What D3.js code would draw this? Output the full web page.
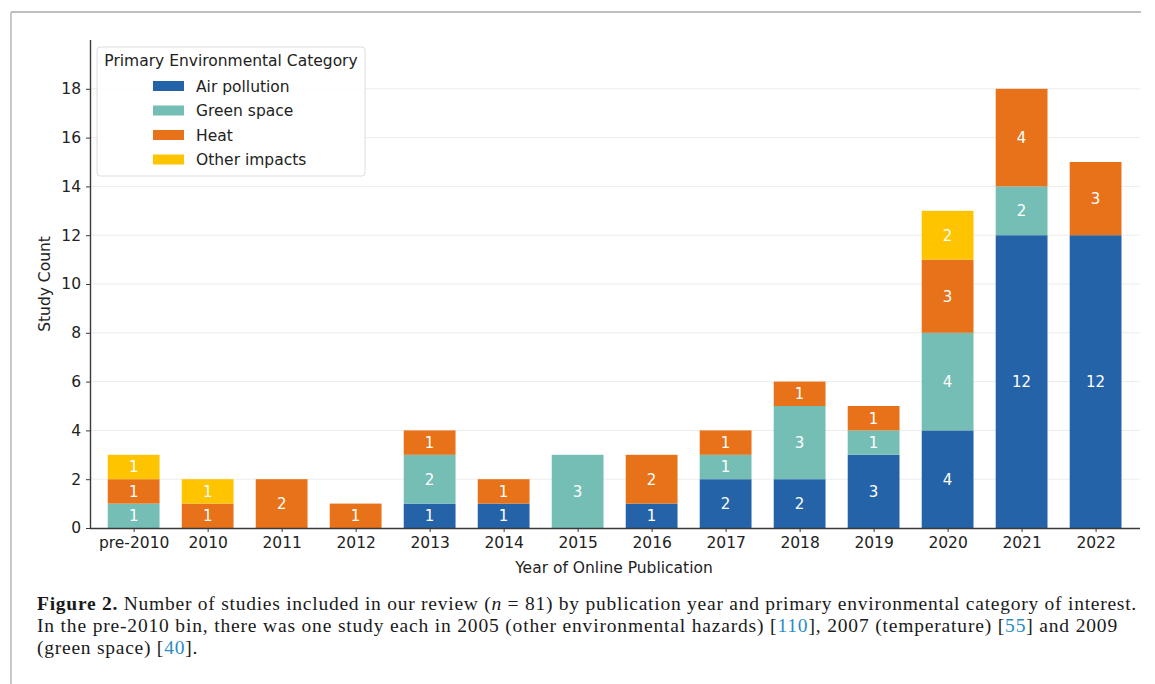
<!DOCTYPE html>
<html>
<head>
<meta charset="utf-8">
<script src="https://cdn.jsdelivr.net/npm/d3@7"></script>
<style>
  body { margin: 0; background: #fff; }
  svg { display: block; }
</style>
</head>
<body>
<svg id="chart" width="1155" height="684"></svg>
<script>
// data
var years = ["pre-2010", "2010", "2011", "2012", "2013", "2014", "2015", "2016", "2017", "2018", "2019", "2020", "2021", "2022"];
var airPollution = [0, 0, 0, 0, 1, 1, 0, 1, 2, 2, 3, 4, 12, 12];
var greenSpace   = [1, 0, 0, 0, 2, 0, 3, 0, 1, 3, 1, 4, 2, 0];
var heat         = [1, 1, 2, 1, 1, 1, 0, 2, 1, 1, 1, 3, 4, 3];
var otherImpacts = [1, 1, 0, 0, 0, 0, 0, 0, 0, 0, 0, 2, 0, 0];
var categories = ["Air pollution", "Green space", "Heat", "Other impacts"];
var colors = ["#2563a9", "#75beb5", "#e87219", "#ffc400"];
var yTicks = [0, 2, 4, 6, 8, 10, 12, 14, 16, 18];

var svg = d3.select("#chart");
var fs = 15.5;

// page frame (top + left lines of the crop)
svg.append("line").attr("x1", 11).attr("y1", 12).attr("x2", 1141).attr("y2", 12)
   .attr("stroke", "#a8a8a8").attr("stroke-width", 1.3);
svg.append("line").attr("x1", 11).attr("y1", 12).attr("x2", 11).attr("y2", 684)
   .attr("stroke", "#c8c8c8").attr("stroke-width", 2);

var pLeft = 90, pRight = 1140, pTop = 40, pBottom = 528;

var x = d3.scaleLinear().domain([-0.59, years.length - 1 + 0.6]).range([pLeft, pRight]);
var y = d3.scaleLinear().domain([0, 20]).range([pBottom, pTop]);
var barW = (x(1) - x(0)) * 0.7;

var g = svg.append("g");

// grid
g.selectAll(".grid").data(yTicks.slice(1)).enter().append("line")
  .attr("x1", pLeft).attr("x2", pRight)
  .attr("y1", d => y(d)).attr("y2", d => y(d))
  .attr("stroke", "#ececec").attr("stroke-width", 1);

// stacked bars
var rows = years.map(function(yr, i) {
  return { year: yr, i: i, a: airPollution[i], g: greenSpace[i], h: heat[i], o: otherImpacts[i] };
});
var stack = d3.stack().keys(["a", "g", "h", "o"])(rows);

var layer = g.selectAll(".layer").data(stack).enter().append("g")
  .attr("fill", (d, k) => colors[k]);

layer.selectAll("rect").data(d => d.filter(s => s[1] - s[0] > 0)).enter().append("rect")
  .attr("x", d => x(d.data.i) - barW / 2)
  .attr("width", barW)
  .attr("y", d => y(d[1]))
  .attr("height", d => y(d[0]) - y(d[1]));

layer.selectAll("text").data(d => d.filter(s => s[1] - s[0] > 0)).enter().append("text")
  .attr("x", d => x(d.data.i))
  .attr("y", d => y((d[0] + d[1]) / 2))
  .attr("dy", "0.36em")
  .attr("text-anchor", "middle")
  .attr("fill", "#ffffff")
  .attr("font-family", "DejaVu Sans")
  .attr("font-size", 15)
  .text(d => d[1] - d[0]);

// axes
var yAxis = d3.axisLeft(y).tickValues(yTicks).tickSize(4).tickPadding(5);
var ga = g.append("g").attr("transform", "translate(" + pLeft + ",0)").call(yAxis);
var xAxis = d3.axisBottom(x).tickValues(d3.range(years.length)).tickFormat(i => years[i]).tickSize(4).tickPadding(5);
var gx = g.append("g").attr("transform", "translate(0," + pBottom + ")").call(xAxis);

[ga, gx].forEach(function(a) {
  a.select(".domain").attr("stroke", "#3a3a3a").attr("stroke-width", 1.4);
  a.selectAll(".tick line").attr("stroke", "#3a3a3a");
  a.selectAll(".tick text").attr("font-family", "DejaVu Sans").attr("font-size", fs).attr("fill", "#222");
});
ga.select(".domain").attr("d", "M0.5," + pTop + "V" + pBottom);
gx.select(".domain").attr("d", "M" + pLeft + ",0.5H" + pRight);

svg.append("text").attr("x", 614).attr("y", 573)
  .attr("text-anchor", "middle").attr("font-family", "DejaVu Sans").attr("font-size", fs)
  .attr("fill", "#222").text("Year of Online Publication");
svg.append("text").attr("transform", "translate(50,284) rotate(-90)")
  .attr("text-anchor", "middle").attr("font-family", "DejaVu Sans").attr("font-size", fs)
  .attr("fill", "#222").text("Study Count");

// legend
var lg = svg.append("g").attr("transform", "translate(97,47)");
lg.append("rect").attr("width", 268).attr("height", 129).attr("rx", 3)
  .attr("fill", "#fff").attr("fill-opacity", 0.85).attr("stroke", "#dcdcdc");
lg.append("text").attr("x", 134).attr("y", 19).attr("text-anchor", "middle")
  .attr("font-family", "DejaVu Sans").attr("font-size", fs).attr("fill", "#222")
  .text("Primary Environmental Category");
var item = lg.selectAll(".item").data(categories).enter().append("g")
  .attr("transform", (d, k) => "translate(0," + (39 + k * 24.5) + ")");
item.append("rect").attr("x", 56).attr("y", -5).attr("width", 31).attr("height", 10)
  .attr("fill", (d, k) => colors[k]);
item.append("text").attr("x", 99).attr("dy", "0.36em")
  .attr("font-family", "DejaVu Sans").attr("font-size", fs).attr("fill", "#222")
  .text(d => d);

// caption (serif, stretched to the widths of the original lines)
var cap = svg.append("g").attr("font-family", "Liberation Serif").attr("font-size", 19.5).attr("fill", "#1a1a1a");
var l1 = cap.append("text").attr("x", 37).attr("y", 610);
l1.append("tspan").attr("font-weight", "bold").text("Figure 2.");
l1.append("tspan").text(" Number of studies included in our review (");
l1.append("tspan").attr("font-style", "italic").text("n");
l1.append("tspan").text(" = 81) by publication year and primary environmental category of interest.");
var l2 = cap.append("text").attr("x", 37).attr("y", 632);
l2.append("tspan").text("In the pre-2010 bin, there was one study each in 2005 (other environmental hazards) [");
l2.append("tspan").attr("fill", "#2a8cc4").text("110");
l2.append("tspan").text("], 2007 (temperature) [");
l2.append("tspan").attr("fill", "#2a8cc4").text("55");
l2.append("tspan").text("] and 2009");
var l3 = cap.append("text").attr("x", 37).attr("y", 654);
l3.append("tspan").text("(green space) [");
l3.append("tspan").attr("fill", "#2a8cc4").text("40");
l3.append("tspan").text("].");

[[l1, 1100], [l2, 1081], [l3, 161]].forEach(function(p) {
  var node = p[0].node();
  var w = node.getComputedTextLength();
  var n = node.textContent.length;
  p[0].attr("letter-spacing", ((p[1] - w) / n).toFixed(3));
});
</script>
</body>
</html>
